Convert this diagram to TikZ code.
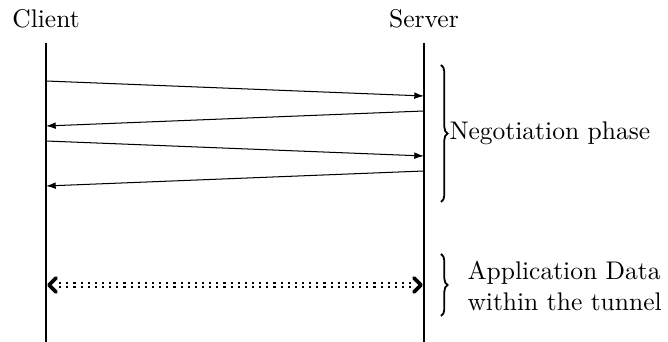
\documentclass[tikz,border=0pt]{standalone}
\usetikzlibrary{decorations.pathreplacing,arrows.meta}
\begin{document}
\begin{tikzpicture}[x=0.392pt,y=-0.392pt,
  lifeline/.style={draw,line width=0.4pt},
  msg/.style={-{Latex[length=3.8pt,width=2.6pt]}},
  bracestyle/.style={decorate,decoration={brace,amplitude=2.6pt},line width=0.7pt},
  tunnel/.style={thick,double,dotted,shorten <=4pt,shorten >=4pt},
  tip/.style={line width=1.4pt,line cap=round,line join=round},
  lbl/.style={inner sep=0pt}]
\useasboundingbox (0,0) rectangle (668,342);
\node[lbl,anchor=base] (client) at (46,28) {Client};
\node[lbl,anchor=base] (server) at (424,28) {Server};
\coordinate (ctop) at (46,43);
\coordinate (cbot) at (46,342);
\coordinate (stop) at (424,43);
\coordinate (sbot) at (424,342);
\draw[lifeline] (ctop) -- (cbot);
\draw[lifeline] (stop) -- (sbot);
\coordinate (c1) at (46,81);  \coordinate (s1) at (424,96);
\coordinate (s2) at (424,111); \coordinate (c2) at (46,126);
\coordinate (c3) at (46,141); \coordinate (s3) at (424,156);
\coordinate (s4) at (424,171); \coordinate (c4) at (46,186);
\draw[msg] (c1) -- (s1);
\draw[msg] (s2) -- (c2);
\draw[msg] (c3) -- (s3);
\draw[msg] (s4) -- (c4);
\coordinate (b1t) at (441,65);
\coordinate (b1b) at (441,202);
\draw[bracestyle] (b1t) -- (b1b);
\node[lbl,anchor=west] (neg) at (449,133) {Negotiation phase};
\coordinate (da) at (49,285);
\coordinate (db) at (421,285);
\draw[tunnel] (da) -- (db);
\draw[tip] (da) ++(7,-7) -- (da) -- ++(7,7);
\draw[tip] (db) ++(-7,-7) -- (db) -- ++(-7,7);
\coordinate (b2t) at (441,254);
\coordinate (b2b) at (441,316);
\draw[bracestyle] (b2t) -- (b2b);
\node[lbl,anchor=west,align=left] (app) at (467,286) {Application Data\\within the tunnel};
\end{tikzpicture}
\end{document}
